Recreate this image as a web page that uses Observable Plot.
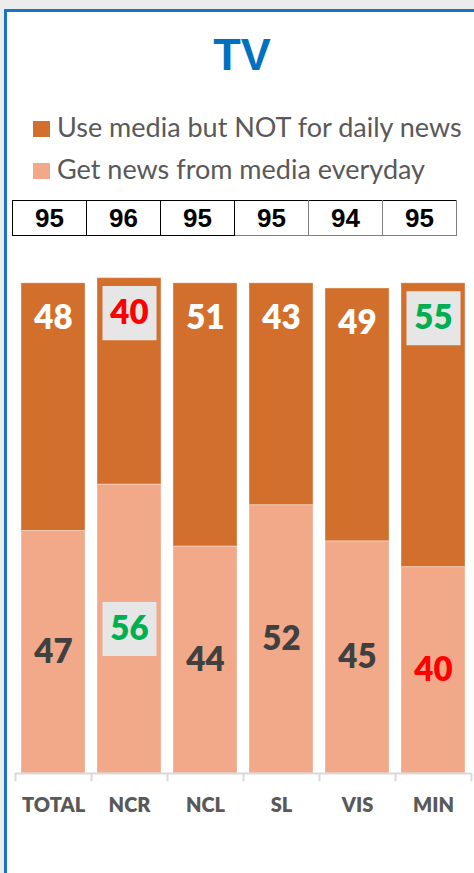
<!DOCTYPE html>
<html>
<head>
<meta charset="utf-8">
<script src="https://cdn.jsdelivr.net/npm/d3@7"></script>
<script src="https://cdn.jsdelivr.net/npm/@observablehq/plot@0.6"></script>
<style>
  html, body { margin: 0; padding: 0; }
  body { width: 474px; height: 873px; overflow: hidden; background: #ececec; position: relative; }
  #frame { position: absolute; left: 4px; top: 9px; width: 500px; height: 900px; background: #fff;
           border-left: 3px solid #1a73c6; border-top: 3px solid #1a73c6; }
  .abs { position: absolute; }
  #title { left: 0; width: 484px; top: 32px; text-align: center; font: bold 45px/45px "Liberation Sans", Arial, sans-serif; color: #0070c0; }
  .swatch { position: absolute; left: 33px; width: 17px; height: 16px; }
  .legend-text { position: absolute; left: 57px; font: 27px/27px Lato, sans-serif; color: #595959; white-space: nowrap; }
  #tbl { left: 12px; top: 200px; border-collapse: collapse; }
  #tbl td { width: 73px; height: 34px; padding: 0; text-align: center; vertical-align: middle;
            font: bold 26px/26px "Liberation Sans", Arial, sans-serif; color: #000; border: 1.5px solid #000; }
  #tbl td.g { border-color: #000 #7f7f7f #7f7f7f #7f7f7f; }
  #chart { left: 0; top: 250px; }
</style>
</head>
<body>
<div id="frame"></div>
<div id="title" class="abs">TV</div>
<div id="legend"></div>
<table id="tbl" class="abs"><tr id="tblrow"></tr></table>
<div id="chart" class="abs"></div>
<script>
// ---- data ----
const categories = ["TOTAL", "NCR", "NCL", "SL", "VIS", "MIN"];
const seriesTop = "Use media but NOT for daily news";
const seriesBottom = "Get news from media everyday";
const notDailyNews = [48, 40, 51, 43, 49, 55];     // top segment
const dailyNews = [47, 56, 44, 52, 45, 40];        // bottom segment
const tableValues = [95, 96, 95, 95, 94, 95];      // row above bars
// significance flags: "high" (green), "low" (red), null (plain)
const topFlags = [null, "low", null, null, null, "high"];
const bottomFlags = [null, "high", null, null, null, "low"];
const topBoxed = [false, true, false, false, false, true];
const bottomBoxed = [false, true, false, false, false, false];

// ---- styles ----
const colorTop = "#d36f2c";
const colorBottom = "#f1a98a";
const flagColor = {high: "#00b050", low: "#ff0000"};
const labelFont = "Lato, sans-serif";
const heavy = 800;

// ---- legend (HTML) ----
const legend = document.getElementById("legend");
[[seriesTop, colorTop, 121, 113], [seriesBottom, colorBottom, 163, 155]].forEach(([name, col, sy, ty]) => {
  const sw = document.createElement("div");
  sw.className = "swatch"; sw.style.top = sy + "px"; sw.style.background = col;
  legend.appendChild(sw);
  const t = document.createElement("div");
  t.className = "legend-text"; t.style.top = ty + "px"; t.textContent = name;
  legend.appendChild(t);
});

// ---- table row ----
const row = document.getElementById("tblrow");
tableValues.forEach((v, i) => {
  const td = document.createElement("td");
  if (i >= 3) td.className = "g";
  td.textContent = v;
  row.appendChild(td);
});

// ---- chart ----
const rows = [];
categories.forEach((c, i) => {
  rows.push({category: c, series: seriesBottom, value: dailyNews[i]});
  rows.push({category: c, series: seriesTop, value: notDailyNews[i]});
});
const idx = categories.map((c, i) => i);
const total = i => dailyNews[i] + notDailyNews[i];

const chart = Plot.plot({
  width: 474,
  height: 580,
  marginLeft: 15,
  marginRight: 3,
  marginTop: 7,
  marginBottom: 57,
  style: {background: "none", overflow: "visible"},
  x: {domain: categories, paddingInner: 0.16, paddingOuter: 0.08, axis: null},
  y: {domain: [0, 100], axis: null},
  color: {domain: [seriesTop, seriesBottom], range: [colorTop, colorBottom]},
  marks: [
    Plot.barY(rows, {x: "category", y: "value", fill: "series", stroke: "#ffffff", strokeOpacity: 0.35, strokeWidth: 1}),
    Plot.ruleY([0], {stroke: "#d9d9d9", strokeWidth: 2}),
    Plot.ruleX(categories, {x: d => d, y1: () => 0, y2: () => -1.6, dx: -38, stroke: "#d9d9d9", strokeWidth: 2}),
    Plot.ruleX(categories.slice(-1), {x: d => d, y1: () => 0, y2: () => -1.6, dx: 38, stroke: "#d9d9d9", strokeWidth: 2}),
    // highlight boxes
    Plot.dot(idx.filter(i => topBoxed[i]), {x: i => categories[i], y: i => total(i), dy: 35, symbol: "square", r: 30.5, fill: "#e6e6e6"}),
    Plot.dot(idx.filter(i => bottomBoxed[i]), {x: i => categories[i], y: i => dailyNews[i] / 2, symbol: "square", r: 30.5, fill: "#e6e6e6"}),
    // labels
    Plot.text(idx, {x: i => categories[i], y: i => total(i), dy: 35, text: i => String(notDailyNews[i]),
      fill: i => topFlags[i] ? flagColor[topFlags[i]] : "#ffffff", fontSize: 33, fontWeight: heavy, fontFamily: labelFont}),
    Plot.text(idx, {x: i => categories[i], y: i => dailyNews[i] / 2, text: i => String(dailyNews[i]),
      fill: i => bottomFlags[i] ? flagColor[bottomFlags[i]] : "#404040", fontSize: 33, fontWeight: heavy, fontFamily: labelFont}),
    Plot.axisX({tickSize: 0, tickPadding: 24, fontSize: 20, fontWeight: heavy, fontFamily: labelFont, fill: "#595959", label: null})
  ]
});
document.getElementById("chart").appendChild(chart);
</script>
</body>
</html>
